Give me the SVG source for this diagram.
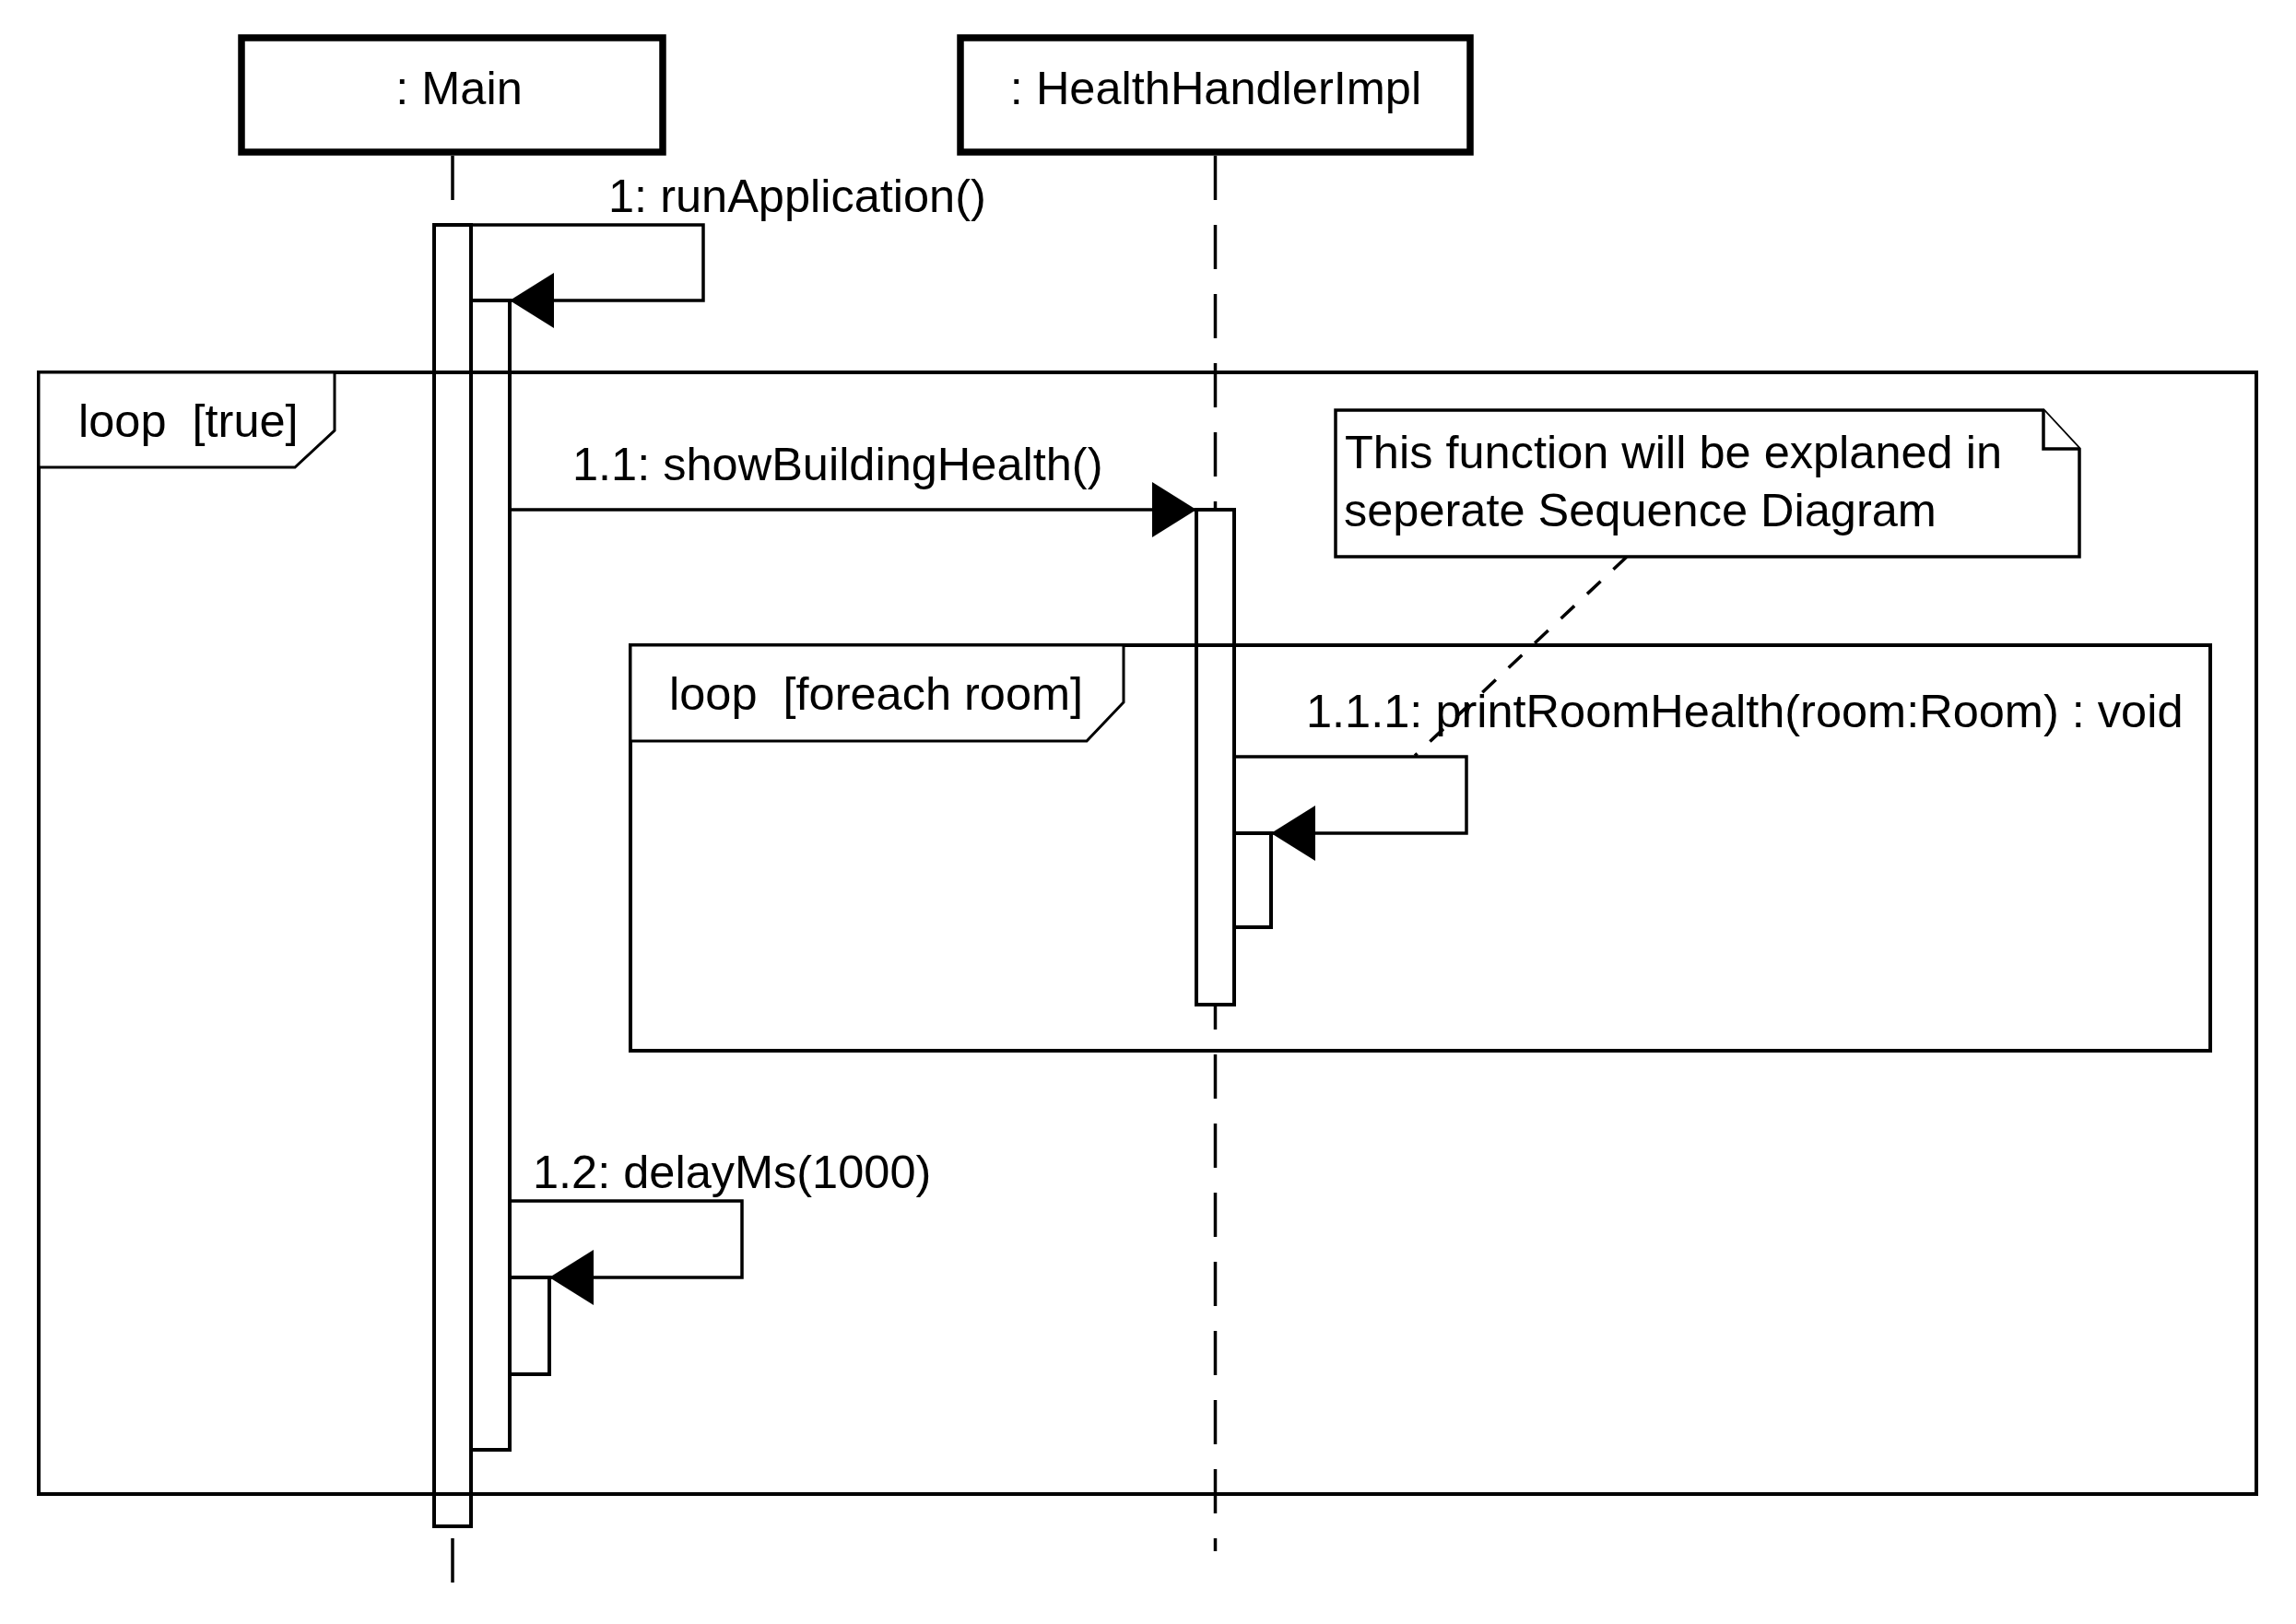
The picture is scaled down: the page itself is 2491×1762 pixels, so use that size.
<svg xmlns="http://www.w3.org/2000/svg" width="2491" height="1762" viewBox="0 0 2491 1762">
<defs>
<style>
text{font-family:"Liberation Sans",Arial,sans-serif;font-size:50.5px;fill:#000}
.head{fill:#fff;stroke:#000;stroke-width:7.5}
.life{fill:none;stroke:#000;stroke-width:3.5;stroke-dasharray:48 27}
.act{fill:#fff;stroke:#000;stroke-width:4}
.msg{fill:none;stroke:#000;stroke-width:3.5;marker-end:url(#arr)}
.frame{fill:none;stroke:#000;stroke-width:4}
.tag{fill:#fff;stroke:#000;stroke-width:3}
.note{fill:#fff;stroke:#000;stroke-width:3.5}
.link{fill:none;stroke:#000;stroke-width:3.5;stroke-dasharray:20 19}
</style>
<marker id="arr" viewBox="0 0 48 60" refX="48" refY="30" markerWidth="48" markerHeight="60" markerUnits="userSpaceOnUse" orient="auto">
<path d="M0,0 L48,30 L0,60 Z" fill="#000"/>
</marker>
</defs>
<rect width="2491" height="1762" fill="#fff"/>

<g id="lifeline-main">
<rect class="head" x="262" y="41" width="457" height="124"/>
<text x="498" y="113" text-anchor="middle">: Main</text>
<path class="life" d="M491,169 V1717"/>
</g>
<g id="lifeline-healthhandler">
<rect class="head" x="1042" y="41" width="553" height="124"/>
<text x="1319" y="113" text-anchor="middle">: HealthHandlerImpl</text>
<path class="life" d="M1318.5,169 V1683"/>
</g>

<g id="activations">
<rect id="act-main" class="act" x="471" y="244" width="40" height="1412"/>
<rect id="act-main-run" class="act" x="511" y="326" width="42" height="1247"/>
<rect id="act-main-delay" class="act" x="553" y="1386" width="43" height="105"/>
<rect id="act-hh" class="act" x="1298" y="553" width="41" height="537"/>
<rect id="act-hh-print" class="act" x="1339" y="904" width="40" height="102"/>
</g>

<g id="frame-loop-true">
<rect class="frame" x="42" y="404" width="2406" height="1217"/>
<path class="tag" d="M42,404 H363 V467 L320,507 H42 Z"/>
<text x="85" y="474" xml:space="preserve">loop  [true]</text>
</g>
<g id="frame-loop-foreach">
<rect class="frame" x="684" y="700" width="1714" height="440"/>
<path class="tag" d="M684,700 H1219 V762 L1179,804 H684 Z"/>
<text x="726" y="770" xml:space="preserve">loop  [foreach room]</text>
</g>

<g id="connectors">
<path class="msg" d="M511,244 H763 V326 H553"/>
<path class="msg" d="M553,553 H1298"/>
<path class="msg" d="M1339,821 H1591 V904 H1379"/>
<path class="msg" d="M553,1303 H805 V1386 H596"/>
<path class="link" d="M1765,604 L1535,820"/>
</g>

<g id="note">
<path class="note" d="M1449,445 H2217 L2256,487 V604 H1449 Z"/>
<path class="note" d="M2217,445 V487 H2256"/>
<text x="1459" y="508">This function will be explaned in</text>
<text x="1458" y="571">seperate Sequence Diagram</text>
</g>

<g id="labels">
<text x="660" y="230">1: runApplication()</text>
<text x="621" y="521">1.1: showBuildingHealth()</text>
<text x="1417" y="789">1.1.1: printRoomHealth(room:Room) : void</text>
<text x="578" y="1289">1.2: delayMs(1000)</text>
</g>
</svg>
